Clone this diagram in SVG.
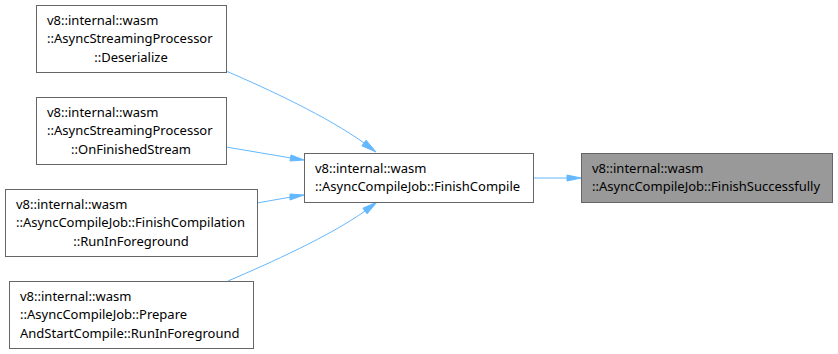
<svg xmlns="http://www.w3.org/2000/svg" width="838" height="354" viewBox="0 0 838 354">
<defs>
<style>
.box{fill:#ffffff;stroke:#666666;stroke-width:1}
.hl{fill:#999999;stroke:#666666;stroke-width:1}
text{font-family:"Noto Sans","DejaVu Sans",sans-serif;font-size:13px;fill:#000000}
.c{text-anchor:middle}
.edge{fill:none;stroke:#63b8ff;stroke-width:1}
.head{fill:#63b8ff;stroke:#63b8ff;stroke-width:1}
</style>
</defs>
<rect width="838" height="354" fill="#ffffff"/>
<g id="connectors">
<path class="edge" d="M226,71 C268,89 328,117 364,143"/>
<polygon class="head" points="361.9,145.8 376,152 366.1,140.2"/>
<path class="edge" d="M226,147 L291,158"/>
<polygon class="head" points="290,161 304,160 291,155"/>
<path class="edge" d="M257,203 L291,197"/>
<polygon class="head" points="290,200 304,195 290,194"/>
<path class="edge" d="M228,281 C270,263 330,236 365,211"/>
<polygon class="head" points="367.1,213.8 377,202 362.9,208.2"/>
<path class="edge" d="M533,178 L568,178"/>
<polygon class="head" points="567,175 581,178 567,181"/>
</g>
<g id="node1">
<rect class="box" x="36.5" y="5.5" width="190" height="67"/>
<text x="47" y="25">v8::internal::wasm</text>
<text x="47" y="43">::AsyncStreamingProcessor</text>
<text class="c" x="131" y="62">::Deserialize</text>
</g>
<g id="node2">
<rect class="box" x="36.5" y="97.5" width="190" height="67"/>
<text x="47" y="117">v8::internal::wasm</text>
<text x="47" y="135">::AsyncStreamingProcessor</text>
<text class="c" x="131" y="154">::OnFinishedStream</text>
</g>
<g id="node3">
<rect class="box" x="5.5" y="189.5" width="252" height="67"/>
<text x="16" y="209">v8::internal::wasm</text>
<text x="16" y="227">::AsyncCompileJob::FinishCompilation</text>
<text class="c" x="131" y="246">::RunInForeground</text>
</g>
<g id="node4">
<rect class="box" x="9.5" y="281.5" width="244" height="67"/>
<text x="20" y="301">v8::internal::wasm</text>
<text x="20" y="319">::AsyncCompileJob::Prepare</text>
<text x="20" y="338">AndStartCompile::RunInForeground</text>
</g>
<g id="node5">
<rect class="box" x="304.5" y="153.5" width="229" height="49"/>
<text x="315" y="173">v8::internal::wasm</text>
<text x="315" y="191">::AsyncCompileJob::FinishCompile</text>
</g>
<g id="node6">
<rect class="hl" x="581.5" y="153.5" width="251" height="49"/>
<text x="592" y="173">v8::internal::wasm</text>
<text x="592" y="191">::AsyncCompileJob::FinishSuccessfully</text>
</g>
</svg>
